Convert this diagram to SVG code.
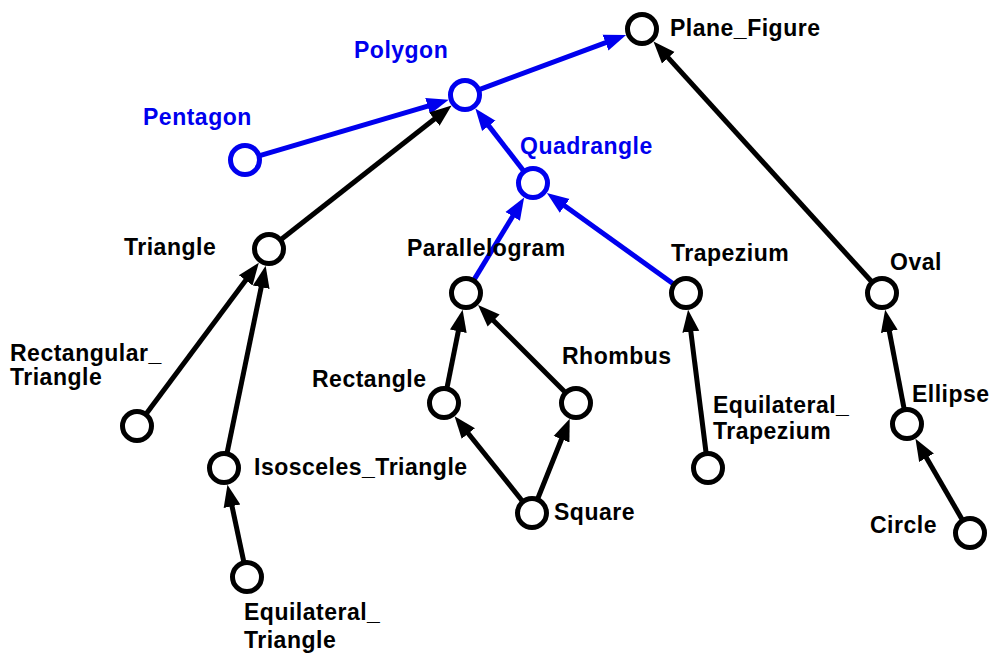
<svg xmlns="http://www.w3.org/2000/svg" width="993" height="654" viewBox="0 0 993 654">
<style>
.e{stroke-width:5;fill:none;stroke-linecap:butt}
.k{stroke:#000}
.b{stroke:#0000ee}
.n{fill:#fff;stroke-width:5}
.nk{stroke:#000}
.nb{stroke:#0000ee}
text{font-family:"Liberation Sans",Arial,sans-serif;font-weight:bold;font-size:23px;letter-spacing:0.5px}
.tk{fill:#000}
.tb{fill:#0000ee}
</style>
<defs>
<marker id="ak" markerUnits="userSpaceOnUse" markerWidth="24" markerHeight="20" refX="1" refY="8.5" orient="auto" viewBox="0 0 24 17"><path d="M0,0 L22,8.5 L0,17 Z" fill="#000"/></marker>
<marker id="ab" markerUnits="userSpaceOnUse" markerWidth="24" markerHeight="20" refX="1" refY="8.5" orient="auto" viewBox="0 0 24 17"><path d="M0,0 L22,8.5 L0,17 Z" fill="#0000ee"/></marker>
</defs>
<rect width="993" height="654" fill="#fff"/>
<g id="connectors">
<line class="e b" x1="258.9" y1="155.9" x2="428.6" y2="105.8" marker-end="url(#ab)"/>
<line class="e b" x1="478.6" y1="89.9" x2="606.4" y2="42.3" marker-end="url(#ab)"/>
<line class="e b" x1="524.1" y1="171.5" x2="488.2" y2="125.1" marker-end="url(#ab)"/>
<line class="e b" x1="473.5" y1="280.6" x2="513.2" y2="215.5" marker-end="url(#ab)"/>
<line class="e b" x1="674.2" y1="284.5" x2="563.9" y2="205.2" marker-end="url(#ab)"/>
<line class="e k" x1="280.4" y1="240.0" x2="435.1" y2="118.5" marker-end="url(#ak)"/>
<line class="e k" x1="872.2" y1="282.3" x2="667.6" y2="57.1" marker-end="url(#ak)"/>
<line class="e k" x1="145.7" y1="414.4" x2="246.3" y2="279.5" marker-end="url(#ak)"/>
<line class="e k" x1="226.9" y1="453.8" x2="261.4" y2="286.2" marker-end="url(#ak)"/>
<line class="e k" x1="244.0" y1="562.8" x2="231.8" y2="505.2" marker-end="url(#ak)"/>
<line class="e k" x1="446.8" y1="388.8" x2="458.5" y2="330.3" marker-end="url(#ak)"/>
<line class="e k" x1="565.7" y1="392.7" x2="492.9" y2="319.9" marker-end="url(#ak)"/>
<line class="e k" x1="522.9" y1="501.7" x2="467.7" y2="432.7" marker-end="url(#ak)"/>
<line class="e k" x1="537.4" y1="499.5" x2="561.9" y2="438.3" marker-end="url(#ak)"/>
<line class="e k" x1="706.2" y1="453.6" x2="690.7" y2="330.7" marker-end="url(#ak)"/>
<line class="e k" x1="904.3" y1="409.8" x2="889.1" y2="330.3" marker-end="url(#ak)"/>
<line class="e k" x1="962.7" y1="520.4" x2="926.0" y2="456.9" marker-end="url(#ak)"/>
</g>
<g id="Plane_Figure"><circle class="n nk" cx="642" cy="29" r="14.5"/><text class="tk" x="670" y="36">Plane_Figure</text></g>
<g id="Polygon"><circle class="n nb" cx="465" cy="95" r="14.5"/><text class="tb" x="354" y="58">Polygon</text></g>
<g id="Pentagon"><circle class="n nb" cx="245" cy="160" r="14.5"/><text class="tb" x="143" y="125">Pentagon</text></g>
<g id="Quadrangle"><circle class="n nb" cx="533" cy="183" r="14.5"/><text class="tb" x="520" y="154">Quadrangle</text></g>
<g id="Triangle"><circle class="n nk" cx="269" cy="249" r="14.5"/><text class="tk" x="124" y="255">Triangle</text></g>
<g id="Parallelogram"><circle class="n nk" cx="466" cy="293" r="14.5"/><text class="tk" x="407" y="256">Parallelogram</text></g>
<g id="Trapezium"><circle class="n nk" cx="686" cy="293" r="14.5"/><text class="tk" x="671" y="261">Trapezium</text></g>
<g id="Oval"><circle class="n nk" cx="882" cy="293" r="14.5"/><text class="tk" x="890" y="270">Oval</text></g>
<g id="Rectangular_Triangle"><circle class="n nk" cx="137" cy="426" r="14.5"/><text class="tk" x="10" y="361">Rectangular_</text><text class="tk" x="10" y="385">Triangle</text></g>
<g id="Isosceles_Triangle"><circle class="n nk" cx="224" cy="468" r="14.5"/><text class="tk" x="254" y="475">Isosceles_Triangle</text></g>
<g id="Equilateral_Triangle"><circle class="n nk" cx="247" cy="577" r="14.5"/><text class="tk" x="244" y="620">Equilateral_</text><text class="tk" x="244" y="648">Triangle</text></g>
<g id="Rectangle"><circle class="n nk" cx="444" cy="403" r="14.5"/><text class="tk" x="312" y="387">Rectangle</text></g>
<g id="Rhombus"><circle class="n nk" cx="576" cy="403" r="14.5"/><text class="tk" x="562" y="364">Rhombus</text></g>
<g id="Square"><circle class="n nk" cx="532" cy="513" r="14.5"/><text class="tk" x="554" y="520">Square</text></g>
<g id="Equilateral_Trapezium"><circle class="n nk" cx="708" cy="468" r="14.5"/><text class="tk" x="713" y="413">Equilateral_</text><text class="tk" x="713" y="439">Trapezium</text></g>
<g id="Ellipse"><circle class="n nk" cx="907" cy="424" r="14.5"/><text class="tk" x="912" y="402">Ellipse</text></g>
<g id="Circle"><circle class="n nk" cx="970" cy="533" r="14.5"/><text class="tk" x="870" y="533">Circle</text></g>
</svg>
